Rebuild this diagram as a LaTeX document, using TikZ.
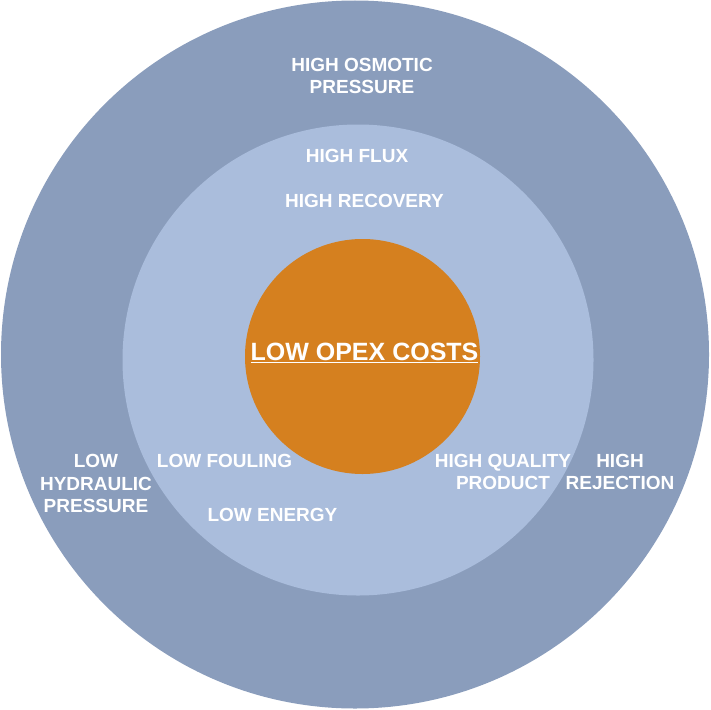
\documentclass[tikz,border=0pt]{standalone}
\usepackage{fontspec}
\setmainfont{Liberation Sans}
\definecolor{outerc}{HTML}{8A9DBC}
\definecolor{innerc}{HTML}{AABDDC}
\definecolor{orangec}{HTML}{D5801F}
\begin{document}
\begin{tikzpicture}[x=1pt,y=-1pt,
  lbl/.style={text=white,font=\bfseries\fontsize{19}{22.5}\selectfont,align=center,inner sep=0pt},
  big/.style={text=white,font=\bfseries\fontsize{25}{28}\selectfont,inner sep=0pt}]
\useasboundingbox (0,0) rectangle (711,709);
\fill[outerc] (355,354.5) circle (354);
\fill[innerc] (358,360) circle (235.5);
\fill[orangec] (362.5,356.5) circle (117.5);
\node[lbl] (osm) at (362,76) {HIGH OSMOTIC\\PRESSURE};
\node[lbl] (flux) at (357,156) {HIGH FLUX};
\node[lbl] (rec) at (364.5,201) {HIGH RECOVERY};
\node[big] (opex) at (364.5,353) {\underline{LOW OPEX COSTS}};
\node[lbl] (hyd) at (96,483.5) {LOW\\HYDRAULIC\\PRESSURE};
\node[lbl] (foul) at (224.5,461) {LOW FOULING};
\node[lbl] (energy) at (272.5,515) {LOW ENERGY};
\node[lbl] (qual) at (503,472) {HIGH QUALITY\\PRODUCT};
\node[lbl] (rej) at (620,472) {HIGH\\REJECTION};
\end{tikzpicture}
\end{document}
